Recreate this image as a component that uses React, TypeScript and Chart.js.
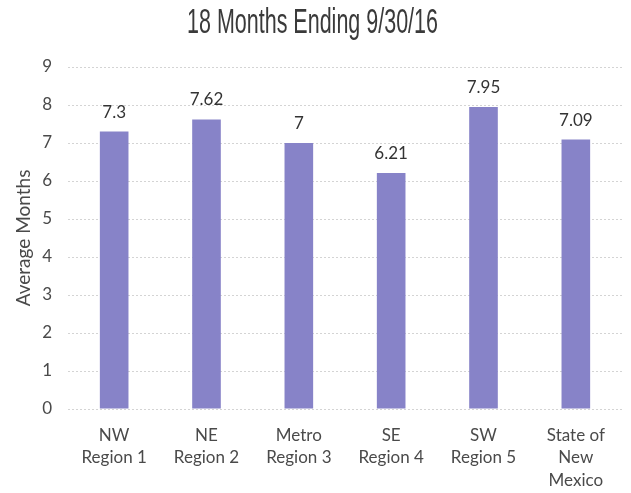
import React, { useEffect, useRef } from "react";
import { Chart, registerables } from "chart.js";

Chart.register(...registerables);

const categories: string[][] = [
  ["NW", "Region 1"],
  ["NE", "Region 2"],
  ["Metro", "Region 3"],
  ["SE", "Region 4"],
  ["SW", "Region 5"],
  ["State of", "New", "Mexico"],
];
const averageMonths: number[] = [7.3, 7.62, 7, 6.21, 7.95, 7.09];
const valueLabels: string[] = ["7.3", "7.62", "7", "6.21", "7.95", "7.09"];
const chartTitle = "18 Months Ending 9/30/16";
const yAxisTitle = "Average Months";
const yMin = 0;
const yMax = 9;
const yStep = 1;

const FONT = "Lato, 'Liberation Sans', sans-serif";
const TEXT = "#4a4a4a";

const labelsPlugin = {
  id: "customText",
  afterDatasetsDraw(chart: any) {
    const ctx = chart.ctx;
    const meta = chart.getDatasetMeta(0);
    ctx.save();
    ctx.fillStyle = "#333333";
    ctx.font = `17px ${FONT}`;
    ctx.textAlign = "center";
    ctx.textBaseline = "alphabetic";
    meta.data.forEach((bar: any, i: number) => {
      ctx.fillText(valueLabels[i], bar.x, bar.y - 14);
    });
    ctx.restore();
  },
  afterDraw(chart: any) {
    const ctx = chart.ctx;
    // title
    ctx.save();
    ctx.fillStyle = "#3a3a3a";
    ctx.font = `35px 'Liberation Sans', sans-serif`;
    ctx.textBaseline = "alphabetic";
    ctx.textAlign = "center";
    const w = ctx.measureText(chartTitle).width;
    const sx = 251 / w;
    ctx.translate(312.5, 33);
    ctx.scale(sx, 1);
    ctx.fillText(chartTitle, 0, 0);
    ctx.restore();
    // y axis title
    ctx.save();
    ctx.fillStyle = TEXT;
    ctx.font = `19px ${FONT}`;
    ctx.textAlign = "center";
    ctx.textBaseline = "middle";
    const area = chart.chartArea;
    ctx.translate(24, (area.top + area.bottom) / 2);
    ctx.rotate(-Math.PI / 2);
    ctx.fillText(yAxisTitle, 0, 0);
    ctx.restore();
  },
};

export default function App() {
  const ref = useRef<HTMLCanvasElement | null>(null);
  useEffect(() => {
    if (!ref.current) return;
    const chart = new Chart(ref.current, {
      type: "bar",
      data: {
        labels: categories as any,
        datasets: [
          {
            data: averageMonths,
            backgroundColor: "#8783C8",
            borderWidth: 0,
            categoryPercentage: 1,
            barPercentage: 0.31,
          },
        ],
      },
      options: {
        responsive: false,
        animation: false,
        layout: { padding: { top: 67, right: 9, left: 0, bottom: 0 } },
        plugins: {
          legend: { display: false },
          title: { display: false },
          tooltip: { enabled: false },
        },
        scales: {
          x: {
            grid: { display: false, drawTicks: false },
            border: { display: false },
            ticks: {
              color: TEXT,
              font: { family: FONT, size: 17, lineHeight: 1.33 },
              padding: 15,
              maxRotation: 0,
              autoSkip: false,
            },
            afterFit(scale: any) {
              scale.height = 84;
            },
          },
          y: {
            min: yMin,
            max: yMax,
            ticks: {
              stepSize: yStep,
              color: TEXT,
              font: { family: FONT, size: 17 },
              padding: 16,
            },
            grid: { color: "#d4d4d4", drawTicks: false, lineWidth: 1 },
            border: { display: false, dash: [2, 2] },
            afterFit(scale: any) {
              scale.width = 68;
            },
          },
        },
      },
      plugins: [labelsPlugin],
    });
    return () => chart.destroy();
  }, []);
  return (
    <div style={{ position: "absolute", left: 0, top: 0, width: 631, height: 493, background: "#fff" }}>
      <canvas ref={ref} width={631} height={493} style={{ width: 631, height: 493 }} />
    </div>
  );
}
